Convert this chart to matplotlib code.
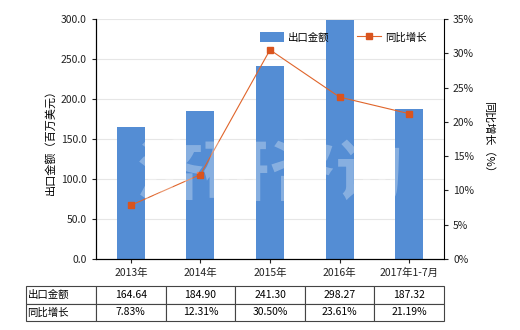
import matplotlib
matplotlib.use('Agg')
import matplotlib.pyplot as plt
import numpy as np

plt.rcParams['font.family'] = ['Noto Sans CJK SC', 'DejaVu Sans']

# data
years = ['2013年', '2014年', '2015年', '2016年', '2017年1-7月']
export_amount = [164.64, 184.90, 241.30, 298.27, 187.32]
yoy_growth = [7.83, 12.31, 30.50, 23.61, 21.19]

bar_color = '#548dd4'
line_color = '#e0652b'

fig = plt.figure(figsize=(5.2, 3.3), dpi=100)
ax = fig.add_axes([96/520, 71/330, 348/520, 240/330])
ax2 = ax.twinx()

x = np.arange(len(years))
ax.bar(x, export_amount, width=0.4, color=bar_color, label='出口金额', zorder=2)
ax2.plot(x, yoy_growth, color=line_color, lw=0.8, marker='s', ms=4.5,
         mfc='#d9541e', mec='#d9541e', label='同比增长', zorder=3)

ax.set_xlim(-0.5, len(years) - 0.5)
ax.set_ylim(0, 300)
ax.set_yticks(np.arange(0, 301, 50))
ax.set_yticklabels(['%.1f' % v for v in np.arange(0, 301, 50)])
ax.set_xticks(x)
ax.set_xticklabels(years)
ax.grid(axis='y', color='#e6e6e6', lw=0.8, zorder=0)
ax.set_axisbelow(True)

ax2.set_ylim(0, 35)
ax2.set_yticks(np.arange(0, 36, 5))
ax2.set_yticklabels(['%d%%' % v for v in np.arange(0, 36, 5)])

for a in (ax, ax2):
    a.tick_params(labelsize=7.5, length=3, width=0.8, colors='#222222')
    a.spines['top'].set_visible(False)
ax.spines['right'].set_visible(False)

ax.set_ylabel('出口金额（百万美元）', fontsize=8)
ax2.set_ylabel('同比增长（%）', fontsize=8, rotation=270, labelpad=14)

# watermark
fig.text(0.52, 0.47, '济研咨询', fontsize=48, color='white', alpha=0.3,
         ha='center', va='center', fontweight='bold', zorder=10)

# legend
h1, l1 = ax.get_legend_handles_labels()
h2, l2 = ax2.get_legend_handles_labels()
ax2.legend(h1 + h2, l1 + l2, loc='upper left', bbox_to_anchor=(0.471, 0.945),
           borderaxespad=0, borderpad=0,
           ncol=2, frameon=False, fontsize=7.5, handlelength=2.3,
           handleheight=1.1, handletextpad=0.4, columnspacing=2.6)

# data table
cells = [['出口金额'] + ['%.2f' % v for v in export_amount],
         ['同比增长'] + ['%.2f%%' % v for v in yoy_growth]]
tbl = ax.table(cellText=cells, colWidths=[70/348] + [0.2]*5,
               bbox=[-70/348, -62/240, 1 + 70/348, 35/240], cellLoc='center')
tbl.auto_set_font_size(False)
tbl.set_fontsize(7.5)
for (r, c), cell in tbl.get_celld().items():
    cell.set_edgecolor('#444444')
    cell.set_linewidth(0.8)
    if c == 0:
        cell.set_text_props(ha='left')
        cell._loc = 'left'
        cell.PAD = 0.02

fig.savefig('out.png', dpi=100)
